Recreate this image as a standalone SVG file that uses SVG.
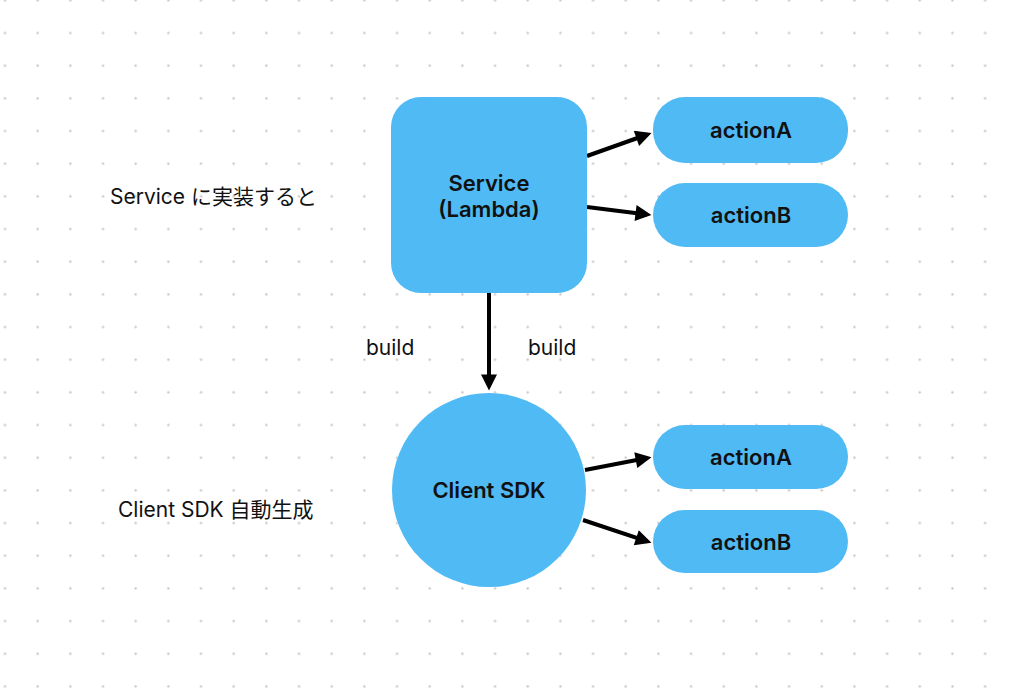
<svg xmlns="http://www.w3.org/2000/svg" width="1014" height="691" viewBox="0 0 1014 691">
  <defs>
    <pattern id="dots" x="-11.33" y="-16" width="32.67" height="32.67" patternUnits="userSpaceOnUse">
      <circle cx="16.33" cy="16.33" r="1.2" fill="#c8c8c8"/>
    </pattern>
    <marker id="arrow" viewBox="0 0 10 10" refX="7.2" refY="5" markerWidth="4.5" markerHeight="4" orient="auto">
      <path d="M0,0 L10,5 L0,10 Z" fill="#000"/>
    </marker>
  </defs>
  <style>
    .node { fill: #50BAF5; }
    .ntext { font-family: Inter, "Liberation Sans", "Noto Sans CJK JP", sans-serif; font-weight: 600; font-size: 22px; fill: #111; text-anchor: middle; }
    .label { font-family: Inter, "Liberation Sans", "Noto Sans CJK JP", sans-serif; font-size: 21px; fill: #111; }
    .edge { stroke: #000; stroke-width: 4; fill: none; marker-end: url(#arrow); }
  </style>
  <rect width="1014" height="691" fill="#fff"/>
  <rect width="1014" height="691" fill="url(#dots)"/>

  <g id="label-service">
    <text class="label" x="110" y="204" font-size="22">Service に実装すると</text>
  </g>
  <g id="label-client">
    <text class="label" x="118" y="517" font-size="22">Client SDK 自動生成</text>
  </g>
  <g id="label-build-left">
    <text class="label" x="366" y="355">build</text>
  </g>
  <g id="label-build-right">
    <text class="label" x="528" y="355">build</text>
  </g>

  <g id="connectors">
    <line class="edge" x1="587" y1="156" x2="647.3" y2="134.5"/>
    <line class="edge" x1="587" y1="207" x2="647" y2="214.4"/>
    <line class="edge" x1="489" y1="293" x2="489" y2="386"/>
    <line class="edge" x1="585" y1="470" x2="647.1" y2="458"/>
    <line class="edge" x1="583" y1="520" x2="647.2" y2="541.4"/>
  </g>

  <g id="service">
    <rect class="node" x="391" y="97" width="196" height="196" rx="30"/>
    <text class="ntext" x="489" y="191">Service</text>
    <text class="ntext" x="489" y="217">(Lambda)</text>
  </g>
  <g id="service-actionA">
    <rect class="node" x="653" y="97" width="195" height="66" rx="32"/>
    <text class="ntext" x="751" y="138">actionA</text>
  </g>
  <g id="service-actionB">
    <rect class="node" x="653" y="183" width="195" height="64" rx="32"/>
    <text class="ntext" x="751" y="223">actionB</text>
  </g>
  <g id="client-sdk">
    <circle class="node" cx="489" cy="490" r="97"/>
    <text class="ntext" x="489" y="498">Client SDK</text>
  </g>
  <g id="client-actionA">
    <rect class="node" x="653" y="425" width="195" height="64" rx="32"/>
    <text class="ntext" x="751" y="465">actionA</text>
  </g>
  <g id="client-actionB">
    <rect class="node" x="653" y="510" width="195" height="63" rx="31.5"/>
    <text class="ntext" x="751" y="550">actionB</text>
  </g>
</svg>
